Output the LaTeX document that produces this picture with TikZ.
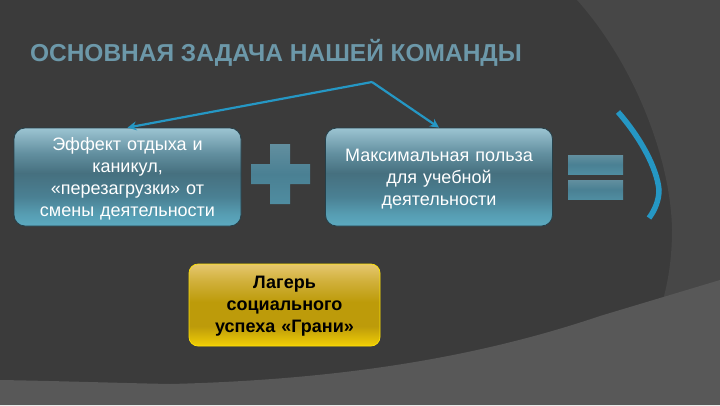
\documentclass[tikz,border=0pt]{standalone}
\usepackage{fontspec}
\setmainfont{Liberation Sans}
\usetikzlibrary{arrows.meta}
\definecolor{boxa}{HTML}{9CC4D2}
\definecolor{boxb}{HTML}{628F9F}
\definecolor{boxc}{HTML}{5CAAC0}
\definecolor{boxd}{HTML}{4A8093}
\definecolor{boxe}{HTML}{46707F}
\definecolor{golda}{HTML}{E6C76F}
\definecolor{goldb}{HTML}{BD9B0A}
\definecolor{goldc}{HTML}{F2CF05}
\definecolor{bgdark}{HTML}{3B3B3B}
\definecolor{bgmid}{HTML}{474747}
\definecolor{bglight}{HTML}{585858}
\definecolor{arrowblue}{HTML}{2597C4}
\definecolor{titleblue}{HTML}{6C98A9}
\colorlet{boxedge}{boxd!50!black}
\pgfdeclareverticalshading{bluebox}{100bp}{
  color(0bp)=(boxc); color(25bp)=(boxc); color(31bp)=(boxc!70!boxd); color(40bp)=(boxd);
  color(52bp)=(boxe); color(62bp)=(boxb); color(75bp)=(boxa); color(100bp)=(boxa)}
\pgfdeclareverticalshading{goldbox}{100bp}{
  color(0bp)=(goldc); color(25bp)=(goldc); color(37bp)=(goldb); color(52bp)=(goldb);
  color(65bp)=(goldb!50!golda); color(75bp)=(golda); color(100bp)=(golda)}
\pgfdeclareverticalshading{signbar}{100bp}{
  color(0bp)=(boxd!70!boxc); color(25bp)=(boxd!70!boxc); color(50bp)=(boxd); color(75bp)=(boxb); color(100bp)=(boxb)}
\tikzset{
  bluenode/.style={rounded corners=11pt,shading=bluebox,draw=boxedge,line width=0.8pt,
    minimum width=227pt,minimum height=98pt,text width=215pt,align=center,text=white,
    font=\fontsize{18}{22}\selectfont,inner sep=0pt,execute at begin node={\rule{0pt}{17pt}}},
  goldnode/.style={rounded corners=9pt,shading=goldbox,draw=yellow!85!orange,line width=0.7pt,
    minimum width=191pt,minimum height=82pt,text width=180pt,align=center,text=black,
    font=\fontsize{18}{22}\selectfont\bfseries,inner sep=0pt,execute at begin node={\rule{0pt}{15pt}}},
  barnode/.style={shading=signbar,minimum width=55pt,minimum height=19pt,inner sep=0pt},
  arrowline/.style={draw=arrowblue,line width=2.2pt,-{Stealth[length=9pt,width=9pt]}}
}
\begin{document}
\begin{tikzpicture}[x=1pt,y=-1pt]
\useasboundingbox (0,0) rectangle (720,405);
% background
\fill[bgdark] (0,0) rectangle (720,405);
\fill[bgmid] (577,0) .. controls (635,65) and (671,160) .. (672,230) .. controls (672,255) and (669,278) .. (663,300) -- (720,300) -- (720,0) -- cycle;
\fill[bglight] (0,380) .. controls (60,381) and (120,383) .. (170,384) .. controls (330,380) and (470,360) .. (600,316) -- (720,280) -- (720,405) -- (0,405) -- cycle;
% title
\node[font=\fontsize{24.5}{28}\selectfont\bfseries,text=titleblue,inner sep=0pt] (title) at (276,52.5) {ОСНОВНАЯ ЗАДАЧА НАШЕЙ КОМАНДЫ};
% boxes
\node[bluenode] (rest) at (127.5,177) {Эффект отдыха и\\каникул,\\«перезагрузки» от\\смены деятельности};
\node[bluenode] (benefit) at (439,177) {Максимальная польза\\для учебной\\деятельности};
\node[goldnode] (camp) at (284.5,305) {Лагерь\\социального\\успеха «Грани»};
% arrows
\coordinate (apex) at (372,82);
\draw[arrowline] (apex) -- (rest.north);
\draw[arrowline] (apex) -- (benefit.north);
% plus and equals
\shade[shading=signbar] (270,144) -- (290,144) -- (290,164) -- (310,164) -- (310,184) -- (290,184) -- (290,204) -- (270,204) -- (270,184) -- (251,184) -- (251,164) -- (270,164) -- cycle;
\node[barnode] (eqtop) at (595.5,164.5) {};
\node[barnode] (eqbot) at (595.5,189.5) {};
% bracket
\draw[arrowblue,line width=5.5pt] (618,112) .. controls (640,137) and (657,168) .. (659,190) .. controls (659,200) and (655,210) .. (649,218);
\end{tikzpicture}
\end{document}
